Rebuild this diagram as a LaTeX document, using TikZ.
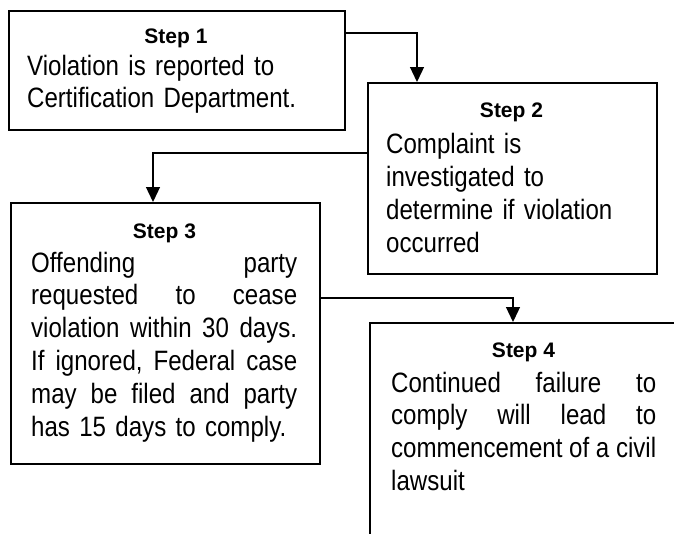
\documentclass[tikz,border=0pt]{standalone}
\usepackage{fontspec}
\setmainfont{Liberation Sans}
\newfontfamily\bodyfont[FakeStretch=0.86]{Liberation Sans}
\usetikzlibrary{arrows.meta}
\newcommand{\jrow}[2]{\leavevmode\hbox to #1{#2}}
\begin{document}
\begin{tikzpicture}[x=1pt,y=-1pt,
  stepbox/.style={draw, line width=1.8pt, rectangle, inner sep=0pt, anchor=north west},
  steptitle/.style={anchor=base, inner sep=0pt, font=\bfseries\fontsize{21}{25}\selectfont},
  stepbody/.style={anchor=north west, inner sep=0pt, align=left, font=\bodyfont\fontsize{28}{32.8}\selectfont},
  conn/.style={line width=1.3pt, -{Triangle[width=14pt,length=15pt]}}]
\clip (0,0) rectangle (674,533);
\fill[white] (0,0) rectangle (674,533);

% boxes
\node[stepbox, minimum width=336pt, minimum height=119pt] (b1) at (8,10) {};
\node[stepbox, minimum width=289pt, minimum height=191pt] (b2) at (367,82) {};
\node[stepbox, minimum width=309pt, minimum height=261pt] (b3) at (10,202) {};
\node[stepbox, minimum width=340pt, minimum height=260pt] (b4) at (369,322) {};

% titles
\node[steptitle] (t1) at (176,43) {Step 1};
\node[steptitle] (t2) at (511.5,117) {Step 2};
\node[steptitle] (t3) at (164.5,238) {Step 3};
\node[steptitle] (t4) at (523.5,357) {Step 4};

% bodies
\node[stepbody, text width=312pt] (x1) at (27,52) {\strut Violation is reported to\\Certification Department.};
\node[stepbody, text width=262pt] (x2) at (386,130.5) {\strut Complaint is\\investigated to\\determine if violation\\occurred};
\node[stepbody, text width=268pt] (x3) at (31,249) {%
\jrow{266pt}{\strut Offending\hss party}\\
\jrow{266pt}{requested\hss to\hss cease}\\
\jrow{266pt}{violation\hss within\hss 30\hss days.}\\
\jrow{266pt}{If\hss ignored,\hss Federal\hss case}\\
\jrow{266pt}{may\hss be\hss filed\hss and\hss party}\\
has 15 days to comply.};
\node[stepbody, text width=268pt] (x4) at (391,369) {%
\jrow{265pt}{\strut Continued\hss failure\hss to}\\
\jrow{265pt}{comply\hss will\hss lead\hss to}\\
\jrow{265pt}{commencement\hss of\hss a\hss civil}\\
lawsuit};

% connectors
\draw[conn] ([yshift=-23pt]b1.north east) -| ([xshift=50pt]b2.north west);
\draw[conn] ([yshift=-71pt]b2.north west) -| ([xshift=143pt]b3.north west);
\draw[conn] ([yshift=-96pt]b3.north east) -| ([xshift=144pt]b4.north west);
\end{tikzpicture}
\end{document}
